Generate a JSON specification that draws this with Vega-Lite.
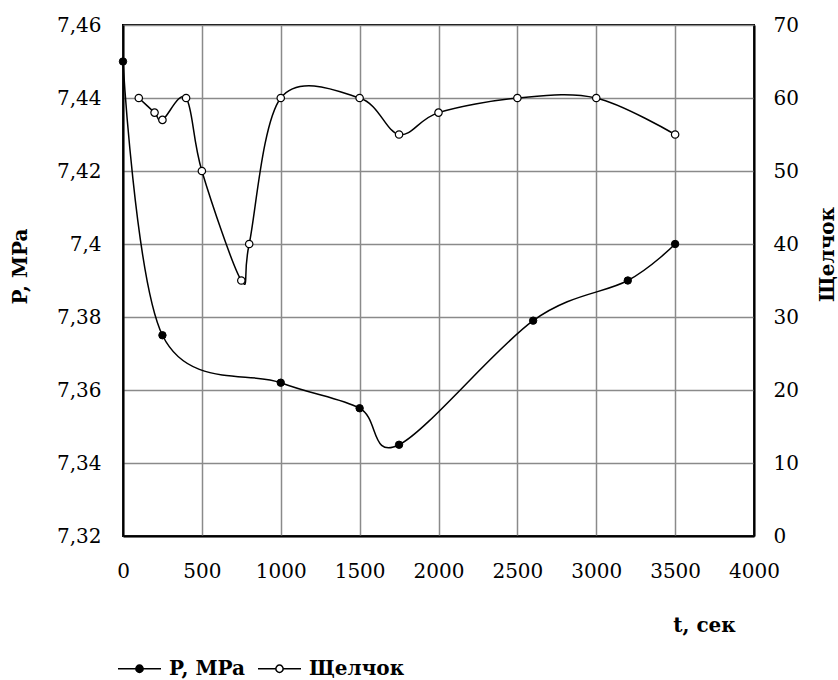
{
  "$schema": "https://vega.github.io/schema/vega-lite/v6.json",
  "width": 631,
  "height": 511,
  "autosize": {"type": "none"},
  "padding": {"left": 123, "top": 25, "right": 84, "bottom": 144},
  "background": "white",
  "config": {
    "view": {"stroke": "black", "strokeWidth": 2},
    "font": "DejaVu Serif",
    "axis": {
      "labelFont": "DejaVu Serif",
      "labelFontSize": 20,
      "labelColor": "black",
      "titleFont": "DejaVu Serif",
      "titleFontSize": 20,
      "titleFontWeight": "bold",
      "titleColor": "black",
      "domainColor": "black",
      "domainWidth": 2,
      "ticks": false,
      "gridColor": "#8a8a8a",
      "gridWidth": 1.5,
      "gridOpacity": 1
    }
  },
  "data": {
    "values": [
      {"series": "P, MPa", "t": 0, "value": 7.45},
      {"series": "P, MPa", "t": 250, "value": 7.375},
      {"series": "P, MPa", "t": 1000, "value": 7.362},
      {"series": "P, MPa", "t": 1500, "value": 7.355},
      {"series": "P, MPa", "t": 1750, "value": 7.345},
      {"series": "P, MPa", "t": 2600, "value": 7.379},
      {"series": "P, MPa", "t": 3200, "value": 7.39},
      {"series": "P, MPa", "t": 3500, "value": 7.4},
      {"series": "Щелчок", "t": 100, "value": 60},
      {"series": "Щелчок", "t": 200, "value": 58},
      {"series": "Щелчок", "t": 250, "value": 57},
      {"series": "Щелчок", "t": 400, "value": 60},
      {"series": "Щелчок", "t": 500, "value": 50},
      {"series": "Щелчок", "t": 750, "value": 35},
      {"series": "Щелчок", "t": 800, "value": 40},
      {"series": "Щелчок", "t": 1000, "value": 60},
      {"series": "Щелчок", "t": 1500, "value": 60},
      {"series": "Щелчок", "t": 1750, "value": 55},
      {"series": "Щелчок", "t": 2000, "value": 58},
      {"series": "Щелчок", "t": 2500, "value": 60},
      {"series": "Щелчок", "t": 3000, "value": 60},
      {"series": "Щелчок", "t": 3500, "value": 55}
    ]
  },
  "encoding": {
    "x": {
      "field": "t",
      "type": "quantitative",
      "scale": {"domain": [0, 4000], "nice": false, "zero": false},
      "axis": {
        "values": [0, 500, 1000, 1500, 2000, 2500, 3000, 3500, 4000],
        "format": "d",
        "title": "t, сек",
        "titleX": 581,
        "titleY": 89,
        "titleAlign": "center",
        "titleBaseline": "middle",
        "labelPadding": 25,
        "labelFlush": false,
        "labelOverlap": false
      }
    }
  },
  "layer": [
    {
      "transform": [{"filter": "datum.series === 'P, MPa'"}],
      "encoding": {
        "y": {
          "field": "value",
          "type": "quantitative",
          "scale": {"domain": [7.32, 7.46], "nice": false, "zero": false},
          "axis": {
            "orient": "left",
            "values": [7.32, 7.34, 7.36, 7.38, 7.4, 7.42, 7.44, 7.46],
            "labelExpr": "replace(format(datum.value, '.2~f'), '.', ',')",
            "title": "P, MPa",
            "titleAngle": 270,
            "titleX": -103,
            "titleY": 241,
            "titleAlign": "center",
            "titleBaseline": "middle",
            "labelPadding": 22,
            "labelOverlap": false,
            "labelFlush": false
          }
        }
      },
      "layer": [
        {"mark": {"type": "line", "interpolate": "cardinal", "tension": 0, "color": "black", "strokeWidth": 1.5}},
        {
          "mark": {"type": "point", "filled": true, "stroke": "black", "strokeWidth": 1, "size": 55, "opacity": 1},
          "encoding": {
            "fill": {
              "field": "series",
              "type": "nominal",
              "scale": {"domain": ["P, MPa", "Щелчок"], "range": ["black", "white"]},
              "legend": {
                "title": null,
                "orient": "none",
                "direction": "horizontal",
                "legendX": -6,
                "legendY": 621,
                "symbolType": "M-1,0H-0.17M0.17,0H1M-0.17,0A0.17,0.17 0 1,0 0.17,0A0.17,0.17 0 1,0 -0.17,0Z",
                "symbolSize": 1849,
                "symbolStrokeColor": "black",
                "symbolStrokeWidth": 1.5,
                "symbolOpacity": 1,
                "labelFont": "DejaVu Serif",
                "labelFontSize": 20,
                "labelFontWeight": "bold",
                "labelColor": "black",
                "labelOffset": 7,
                "columnPadding": 10
              }
            }
          }
        }
      ]
    },
    {
      "transform": [{"filter": "datum.series === 'Щелчок'"}],
      "encoding": {
        "y": {
          "field": "value",
          "type": "quantitative",
          "scale": {"domain": [0, 70], "nice": false},
          "axis": {
            "orient": "right",
            "grid": false,
            "values": [0, 10, 20, 30, 40, 50, 60, 70],
            "title": "Щелчок",
            "titleAngle": 270,
            "titleX": 73,
            "titleY": 229,
            "titleAlign": "center",
            "titleBaseline": "middle",
            "labelPadding": 19,
            "labelOverlap": false,
            "labelFlush": false
          }
        }
      },
      "layer": [
        {"mark": {"type": "line", "interpolate": "cardinal", "tension": 0, "color": "black", "strokeWidth": 1.5}},
        {
          "mark": {"type": "point", "filled": true, "stroke": "black", "strokeWidth": 1.2, "size": 55, "opacity": 1},
          "encoding": {
            "fill": {"field": "series", "type": "nominal"}
          }
        }
      ]
    }
  ],
  "resolve": {"scale": {"y": "independent"}}
}
